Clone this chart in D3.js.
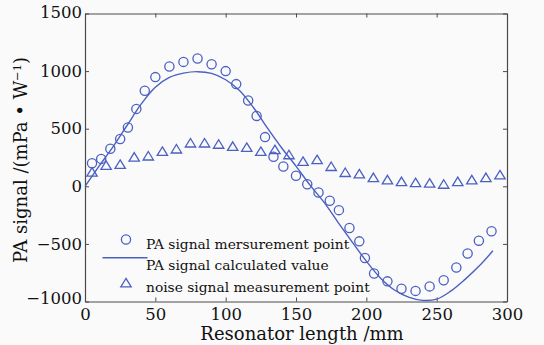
<!DOCTYPE html>
<html>
<head>
<meta charset="utf-8">
<script src="https://cdn.jsdelivr.net/npm/d3@7"></script>
<style>
html,body{margin:0;padding:0;background:#fafafa;}
svg{display:block;}
svg text{font-family:"DejaVu Serif",serif;}
</style>
</head>
<body>
<svg id="chart" width="544" height="345"></svg>
<script>
// PA signal measurement points
const paX = [5, 11.5, 18, 25, 30.5, 36.5, 42.5, 50, 60, 70, 80, 90, 100, 107.5, 116, 122, 128, 134, 141, 150, 158, 166, 174, 180.5, 188, 195, 199, 205.5, 215, 225, 235, 245, 255, 264, 272, 280, 289];
const paY = [200, 238, 326, 410, 510, 672, 830, 948, 1040, 1080, 1110, 1060, 1000, 887, 745, 611, 427, 257, 172, 92, 18, -54, -125, -207, -362, -478, -622, -757, -825, -889, -908, -869, -815, -705, -583, -472, -390];
// PA signal calculated values
const calcX = [0, 10, 20, 30, 40, 50, 60, 70, 80, 90, 100, 110, 120, 130, 140, 150, 160, 170, 180, 190, 200, 210, 220, 230, 240, 250, 260, 270, 280, 290];
const calcY = [0, 175, 345, 530, 715, 860, 945, 982, 995, 980, 925, 830, 680, 500, 330, 175, 10, -140, -315, -485, -650, -795, -900, -962, -990, -980, -910, -810, -695, -560];
// noise signal measurement points
const noiseX = [5, 15, 25, 35, 45, 55, 65, 75, 85, 95, 105, 115, 125, 135, 145, 155, 165, 175, 185, 195, 205, 215, 225, 235, 245, 255, 265, 275, 285, 295];
const noiseY = [122, 180, 189, 253, 262, 302, 323, 375, 375, 364, 346, 337, 302, 317, 273, 215, 230, 171, 119, 107, 75, 55, 40, 31, 26, 17, 40, 55, 75, 98];

const xTicks = [0, 50, 100, 150, 200, 250, 300];
const yTicks = [-1000, -500, 0, 500, 1000, 1500];
const legendLabels = ["PA signal mersurement point", "PA signal calculated value", "noise signal measurement point"];
const xTitle = "Resonator length /mm";

const color = "#4a60c2";

const L = 85, R = 507, T = 13.5, B = 301.5;
const svg = d3.select("#chart");
const x = d3.scaleLinear().domain([0, 300]).range([L, R]);
const y = d3.scaleLinear().domain([-1000, 1500]).range([B, T]);

svg.append("rect").attr("width", 544).attr("height", 345).attr("fill", "#fafafa");

const axisColor = "#4a4a4a";
const fmt = d3.format("d");
const gB = svg.append("g").attr("transform", `translate(0,${B})`)
  .call(d3.axisBottom(x).tickValues(xTicks).tickSizeInner(-4).tickSizeOuter(0).tickPadding(7).tickFormat(fmt));
const gT = svg.append("g").attr("transform", `translate(0,${T})`)
  .call(d3.axisTop(x).tickValues(xTicks).tickSizeInner(-4).tickSizeOuter(0).tickFormat(""));
const gL = svg.append("g").attr("transform", `translate(${L},0)`)
  .call(d3.axisLeft(y).tickValues(yTicks).tickSizeInner(-4).tickSizeOuter(0).tickPadding(3).tickFormat(fmt));
const gR = svg.append("g").attr("transform", `translate(${R},0)`)
  .call(d3.axisRight(y).tickValues(yTicks).tickSizeInner(-4).tickSizeOuter(0).tickFormat(""));
[gB, gT, gL, gR].forEach(g => {
  g.attr("font-family", null).attr("font-size", null);
  g.select(".domain").attr("stroke", axisColor).attr("stroke-width", 1.2);
  g.selectAll(".tick line").attr("stroke", axisColor).attr("stroke-width", 1);
  g.selectAll("text").attr("font-size", 16.5).attr("fill", "#111");
});
gB.selectAll("text").attr("dy", "0.71em");
gL.selectAll("text").attr("dy", "0.32em");
gL.selectAll(".tick").filter(d => d === -1000).select("text").attr("dy", "0.1em");
gL.selectAll(".tick").filter(d => d === 1500).select("text").attr("dy", "0.25em");

// calculated line
const line = d3.line().x((d, i) => x(calcX[i])).y((d, i) => y(calcY[i])).curve(d3.curveCatmullRom);
svg.append("path").datum(calcY).attr("d", line)
  .attr("fill", "none").attr("stroke", color).attr("stroke-width", 1.4);

// circles
svg.append("g").selectAll("circle").data(paY).join("circle")
  .attr("cx", (d, i) => x(paX[i])).attr("cy", d => y(d)).attr("r", 4.6)
  .attr("fill", "none").attr("stroke", color).attr("stroke-width", 1.3);

// triangles
const tri = "M0,-4.6L5.2,3.9L-5.2,3.9Z";
svg.append("g").selectAll("path").data(noiseY).join("path")
  .attr("d", tri)
  .attr("transform", (d, i) => `translate(${x(noiseX[i])},${y(d)})`)
  .attr("fill", "none").attr("stroke", color).attr("stroke-width", 1.3);

// legend
const lg = svg.append("g").attr("font-size", 13.8).attr("fill", "#111");
const rowY = [243, 264.5, 286];
lg.append("circle").attr("cx", 126).attr("cy", rowY[0] - 3.5).attr("r", 4.6)
  .attr("fill", "none").attr("stroke", color).attr("stroke-width", 1.3);
lg.append("line").attr("x1", 102.5).attr("x2", 147.5).attr("y1", rowY[1] - 6.8).attr("y2", rowY[1] - 6.8)
  .attr("stroke", color).attr("stroke-width", 1.4);
lg.append("path").attr("d", tri).attr("transform", `translate(126,${rowY[2] - 3})`)
  .attr("fill", "none").attr("stroke", color).attr("stroke-width", 1.3);
legendLabels.forEach((t, i) => {
  lg.append("text").attr("x", 146).attr("y", rowY[i] + 5.5).text(t);
});

// axis titles
svg.append("text").attr("x", 302).attr("y", 340).attr("text-anchor", "middle")
  .attr("font-size", 18).attr("fill", "#111").text(xTitle);
const yt = svg.append("text").attr("transform", "translate(27,160) rotate(-90)").attr("text-anchor", "middle")
  .attr("font-size", 18).attr("fill", "#111");
yt.append("tspan").text("PA signal /(mPa • W");
yt.append("tspan").attr("font-size", 11.5).attr("dy", -6.5).text("−1");
yt.append("tspan").attr("dy", 6.5).text(")");
</script>
</body>
</html>
